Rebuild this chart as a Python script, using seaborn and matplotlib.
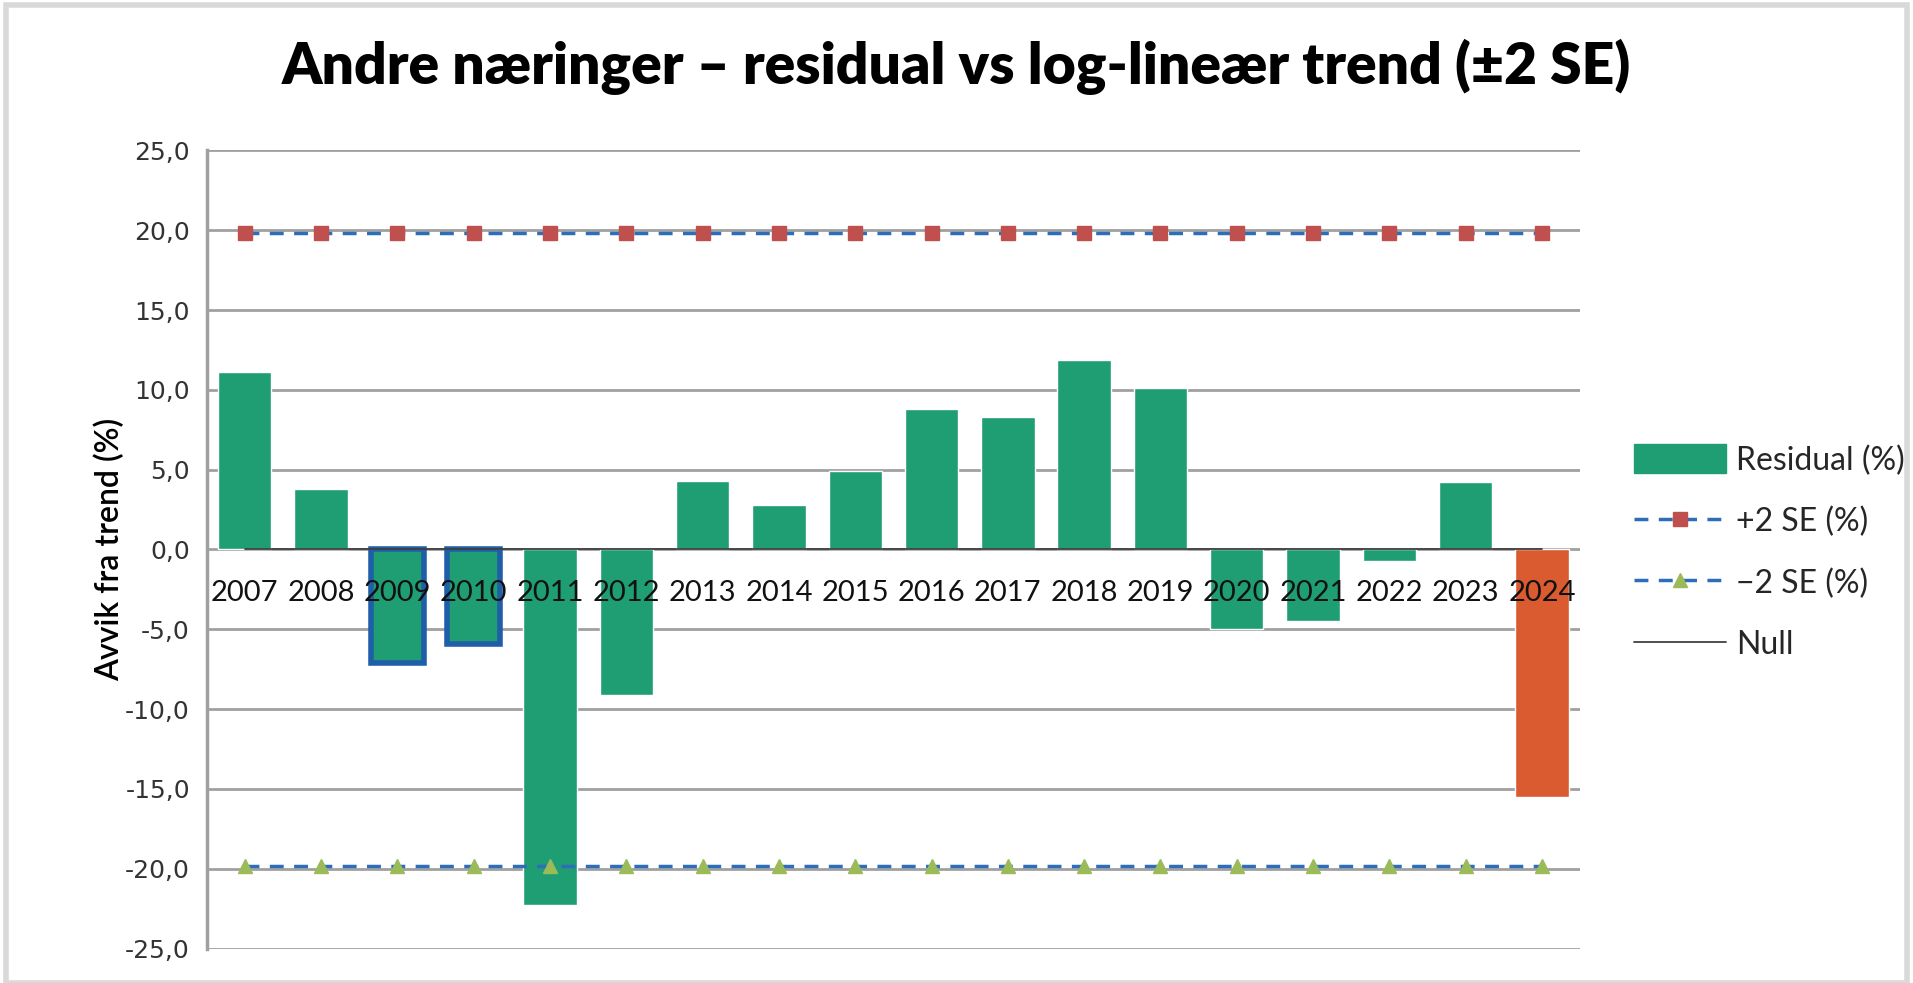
import numpy as np
import matplotlib
matplotlib.use("Agg")
import matplotlib.pyplot as plt
import seaborn as sns
from matplotlib.lines import Line2D
from matplotlib.patches import Patch, Rectangle

# data
years = ["2007", "2008", "2009", "2010", "2011", "2012", "2013", "2014", "2015",
         "2016", "2017", "2018", "2019", "2020", "2021", "2022", "2023", "2024"]
residual = [11.1, 3.8, -7.1, -5.9, -22.3, -9.1, 4.3, 2.8, 4.9,
            8.8, 8.3, 11.9, 10.1, -5.0, -4.5, -0.7, 4.2, -15.5]
upper_se = [19.8] * len(years)
lower_se = [-19.8] * len(years)
null_line = [0.0] * len(years)
highlight_years = ["2009", "2010"]
last_year = "2024"

green = "#1f9e74"
orange = "#d95b2f"
colors = [orange if y == last_year else green for y in years]

sns.set_style("white")
plt.rcParams["font.family"] = ["Lato", "DejaVu Sans"]

fig = plt.figure(figsize=(19.13, 9.83), dpi=100)
ax = fig.add_axes([0.108, 0.035, 0.718, 0.812])

sns.barplot(x=years, y=residual, hue=years, palette=colors, legend=False,
            width=0.7, saturation=1, ax=ax, zorder=3)
for patch, y in zip(ax.patches, years):
    if y in highlight_years:
        patch.set_edgecolor("#1f5ea8")
        patch.set_linewidth(4)

x = np.arange(len(years))
ax.plot(x, upper_se, ls=(0, (4, 3)), color="#2e6db8", lw=2.5, zorder=4,
        marker="s", markersize=10, markerfacecolor="#c0504d", markeredgecolor="#c0504d")
ax.plot(x, lower_se, ls=(0, (4, 3)), color="#2e6db8", lw=2.5, zorder=4,
        marker="^", markersize=10, markerfacecolor="#9bbb59", markeredgecolor="#9bbb59")
ax.plot(x, null_line, color="#404040", lw=1.3, zorder=5)

ax.set_ylim(-25, 25)
ax.set_xlim(-0.5, len(years) - 0.5)
ax.set_yticks(np.arange(-25, 26, 5))
ax.set_yticklabels([f"{v:.1f}".replace(".", ",") for v in np.arange(-25, 26, 5)],
                   fontsize=18, family="DejaVu Sans", color="#333333")
ax.tick_params(axis="y", length=0, pad=12)
ax.set_xticks([])
ax.grid(axis="y", color="#a0a0a0", lw=2, zorder=0)
for side in ["top", "right", "bottom"]:
    ax.spines[side].set_visible(False)
ax.spines["left"].set_color("#a0a0a0")
ax.spines["left"].set_linewidth(2.5)

# year labels sit just below the zero line
for i, y in enumerate(years):
    ax.annotate(y, xy=(i, 0), xytext=(0, -44), textcoords="offset pixels",
                ha="center", va="center", fontsize=21, color="#111111", zorder=6)

ax.set_ylabel("Avvik fra trend (%)", fontsize=23, fontweight="semibold",
              color="black", labelpad=0)
fig.suptitle("Andre næringer – residual vs log-lineær trend (±2 SE)",
             fontsize=41, fontweight="heavy", color="black", y=0.96)

handles = [
    Patch(facecolor=green, edgecolor=green),
    Line2D([0], [0], ls=(0, (4, 3)), color="#2e6db8", lw=2.5, marker="s", markersize=10,
           markerfacecolor="#c0504d", markeredgecolor="#c0504d"),
    Line2D([0], [0], ls=(0, (4, 3)), color="#2e6db8", lw=2.5, marker="^", markersize=10,
           markerfacecolor="#9bbb59", markeredgecolor="#9bbb59"),
    Line2D([0], [0], color="#404040", lw=1.3),
]
labels = ["Residual (%)", "+2 SE (%)", "\u22122 SE (%)", "Null"]
fig.legend(handles, labels, loc="center left", bbox_to_anchor=(0.839, 0.438),
           frameon=False, fontsize=23, handlelength=2.9, handleheight=1.0,
           labelspacing=0.95, handletextpad=0.3)

fig.patches.append(Rectangle((0.003, 0.0), 0.994, 0.995, transform=fig.transFigure,
                             fill=False, edgecolor="#d9d9d9", lw=4))

fig.savefig("out.png", dpi=100)
